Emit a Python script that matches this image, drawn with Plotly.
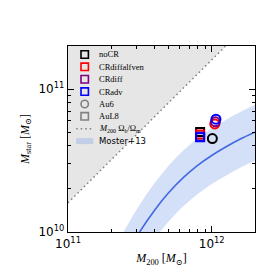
import plotly.graph_objects as go

# ---- data ----
models = ["noCR", "CRdiffalfven", "CRdiff", "CRadv"]
model_colors = ["black", "red", "purple", "blue"]

au6_m200 = [1.01e12, 1.05e12, 1.06e12, 1.07e12]
au6_mstar = [4.5e10, 5.7e10, 5.9e10, 6.15e10]

aul8_m200 = [8.3e11, 8.3e11, 8.3e11, 8.3e11]
aul8_mstar = [5.0e10, 4.8e10, 4.65e10, 4.6e10]

# Moster+13 relation (M200 in 1e11, Mstar in 1e10)
moster_m200 = [2.0, 2.51, 3.16, 3.98, 5.01, 6.31, 7.94, 10.0, 12.6, 15.8, 20.0]
moster_mid = [0.442, 0.681, 1.005, 1.409, 1.879, 2.388, 2.911, 3.428, 3.945, 4.467, 4.989]
moster_hi = [0.684, 1.054, 1.556, 2.183, 2.911, 3.698, 4.508, 5.309, 6.109, 6.918, 7.727]
moster_lo = [0.279, 0.430, 0.634, 0.889, 1.186, 1.507, 1.837, 2.163, 2.489, 2.818, 3.148]

baryon_fraction = 0.16  # Omega_b / Omega_m
bary_m200 = [1e11, 2e12]

x_ticks = [1e11, 1e12]
x_ticklabels = ["10<sup>11</sup>", "10<sup>12</sup>"]
y_ticks = [1e10, 1e11]
y_ticklabels = ["10<sup>10</sup>", "10<sup>11</sup>"]

legend_labels = models + ["Au6", "AuL8", "<i>M</i><sub>200</sub> Ω<sub>b</sub>/Ω<sub>m</sub>", "Moster+13"]

SERIF = "Liberation Serif, DejaVu Serif, serif"
SANS = "DejaVu Sans, sans-serif"
BAND = "rgba(100,140,230,0.28)"
DOT = "1.5px,3px"

fig = go.Figure()

m200_b = bary_m200
mstar_b = [m * baryon_fraction for m in m200_b]
ceiling = [1e13 for _ in m200_b]

# grey forbidden region above the baryon line
fig.add_trace(go.Scatter(x=m200_b, y=ceiling, mode="lines", line=dict(width=0),
                         showlegend=False, hoverinfo="skip"))
fig.add_trace(go.Scatter(x=m200_b, y=mstar_b, mode="lines", line=dict(width=0),
                         fill="tonexty", fillcolor="#e6e6e6",
                         showlegend=False, hoverinfo="skip"))
fig.add_trace(go.Scatter(x=m200_b, y=mstar_b, mode="lines",
                         line=dict(color="grey", width=1.5, dash=DOT), showlegend=False))

# Moster band
mx = [v * 1e11 for v in moster_m200]
fig.add_trace(go.Scatter(x=mx, y=[v * 1e10 for v in moster_hi], mode="lines",
                         line=dict(width=0, shape="spline"), showlegend=False, hoverinfo="skip"))
fig.add_trace(go.Scatter(x=mx, y=[v * 1e10 for v in moster_lo], mode="lines",
                         line=dict(width=0, shape="spline"), fill="tonexty",
                         fillcolor=BAND, showlegend=False, hoverinfo="skip"))
fig.add_trace(go.Scatter(x=mx, y=[v * 1e10 for v in moster_mid], mode="lines",
                         line=dict(color="#4169e1", width=1.6, shape="spline"),
                         showlegend=False))

# data points
for c, x8, y8 in zip(model_colors, aul8_m200, aul8_mstar):
    fig.add_trace(go.Scatter(x=[x8], y=[y8], mode="markers", showlegend=False,
                             marker=dict(symbol="square-open", size=8, color=c, line=dict(width=2, color=c))))
for c, x6, y6 in zip(model_colors, au6_m200, au6_mstar):
    fig.add_trace(go.Scatter(x=[x6], y=[y6], mode="markers", showlegend=False,
                             marker=dict(symbol="circle-open", size=9, color=c, line=dict(width=2, color=c))))

# ---- compact legend (matplotlib-like) drawn with shapes + annotations ----
W, H = 187.0, 186.0  # plot area in px
lx = 16.7 / W        # symbol centre
tx = 29.0 / W        # text start
row0 = 8.5           # px below top of plot
dy = 12.37
hw, hh = 3.7 / W, 3.7 / H
sym_colors = model_colors + ["grey", "grey"]
sym_kinds = ["rect", "rect", "rect", "rect", "circle", "rect"]
shapes = []
annotations = []
for i, lab in enumerate(legend_labels):
    yc = 1 - (row0 + i * dy) / H
    if i < 6:
        shapes.append(dict(type=sym_kinds[i], xref="paper", yref="paper",
                           x0=lx - hw, x1=lx + hw, y0=yc - hh, y1=yc + hh,
                           line=dict(color=sym_colors[i], width=1.6), fillcolor="rgba(0,0,0,0)"))
    elif i == 6:
        shapes.append(dict(type="line", xref="paper", yref="paper",
                           x0=lx - 8.5 / W, x1=lx + 8.5 / W, y0=yc, y1=yc,
                           line=dict(color="grey", width=1.5, dash=DOT)))
    else:
        shapes.append(dict(type="rect", xref="paper", yref="paper",
                           x0=lx - 8.5 / W, x1=lx + 8.5 / W, y0=yc - 3 / H, y1=yc + 3 / H,
                           line=dict(width=0), fillcolor=BAND))
    fam = SANS if i == 7 else SERIF
    annotations.append(dict(text=lab, xref="paper", yref="paper", x=tx, y=yc,
                            xanchor="left", yanchor="middle", showarrow=False,
                            font=dict(family=fam, size=8.5, color="black")))

axis_common = dict(type="log", showline=True, linecolor="black", linewidth=1.3, mirror="allticks",
                   ticks="inside", ticklen=6, tickwidth=1, tickcolor="black", showgrid=False,
                   zeroline=False, tickfont=dict(family=SANS, size=12, color="black"))

fig.update_xaxes(range=[11, 12.30103], tickvals=x_ticks, ticktext=x_ticklabels,
                 minor=dict(ticks="inside", ticklen=3, tickwidth=1, tickcolor="black",
                            tickvals=[2e11, 3e11, 4e11, 5e11, 6e11, 7e11, 8e11, 9e11, 2e12]),
                 title=dict(text="<i>M</i><sub>200</sub> [<i>M</i><sub>⊙</sub>]",
                            font=dict(family=SERIF, size=12, color="black"), standoff=4),
                 **axis_common)
fig.update_yaxes(range=[10, 11.30103], tickvals=y_ticks, ticktext=y_ticklabels,
                 minor=dict(ticks="inside", ticklen=3, tickwidth=1, tickcolor="black",
                            tickvals=[2e10, 3e10, 4e10, 5e10, 6e10, 7e10, 8e10, 9e10, 2e11]),
                 title=dict(text="<i>M</i><sub>star</sub> [<i>M</i><sub>⊙</sub>]",
                            font=dict(family=SERIF, size=12, color="black"), standoff=6),
                 **axis_common)

fig.update_layout(
    width=274, height=274,
    margin=dict(l=60, r=27, t=38, b=50),
    paper_bgcolor="white", plot_bgcolor="white",
    showlegend=False,
    shapes=shapes,
    annotations=annotations,
)

fig.write_html("out.html")
